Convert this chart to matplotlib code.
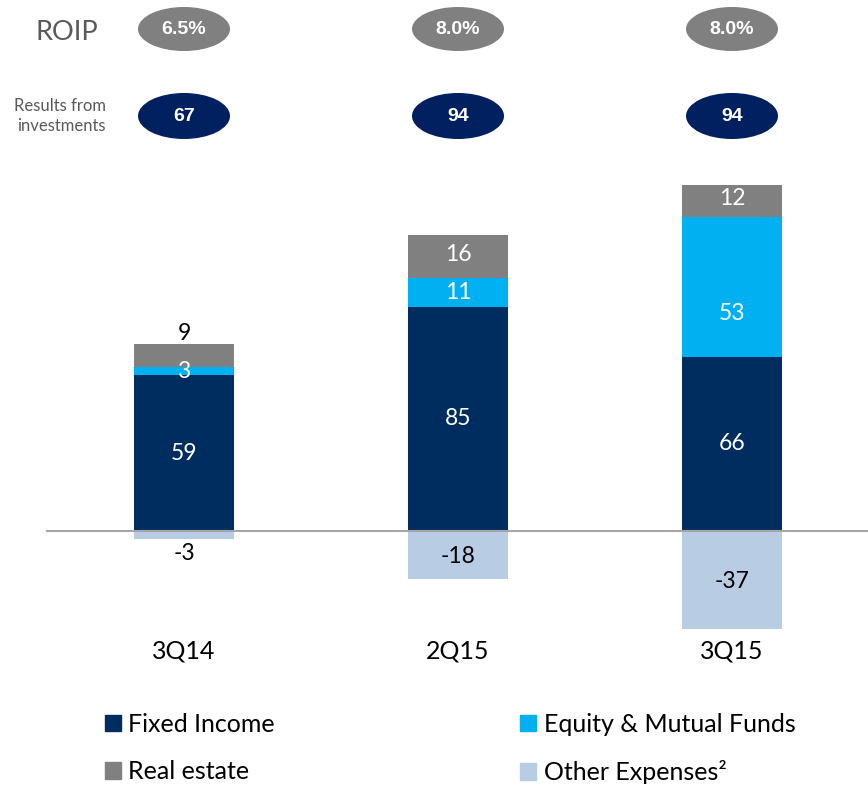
import matplotlib.pyplot as plt
from matplotlib.patches import Ellipse, Patch
import numpy as np

plt.rcParams['font.family'] = ['Lato', 'DejaVu Sans']

quarters = ['3Q14', '2Q15', '3Q15']
fixed_income = [59, 85, 66]
equity_funds = [3, 11, 53]
real_estate = [9, 16, 12]
other_expenses = [-3, -18, -37]
roip = ['6.5%', '8.0%', '8.0%']
results = ['67', '94', '94']

C_FIXED = '#002D5F'
C_EQUITY = '#00B0F0'
C_REAL = '#808080'
C_OTHER = '#B8CCE4'
C_NAVY = '#002060'

# one axes over the whole figure; x in bar slots, y in values
fig = plt.figure(figsize=(8.68, 7.87), dpi=100)
ax = fig.add_axes([0, 0, 1, 1])
px_x = 274.0   # pixels per slot
px_y = 2.64    # pixels per unit
ax.set_xlim(-184 / px_x, (868 - 184) / px_x)
ax.set_ylim(-256 / px_y, 531 / px_y)
ax.axis('off')

x = np.arange(len(quarters))
w = 100 / px_x
fixed_income = np.array(fixed_income)
equity_funds = np.array(equity_funds)
real_estate = np.array(real_estate)

ax.bar(x, fixed_income, w, color=C_FIXED, label='Fixed Income')
ax.bar(x, equity_funds, w, bottom=fixed_income, color=C_EQUITY, label='Equity & Mutual Funds')
ax.bar(x, real_estate, w, bottom=fixed_income + equity_funds, color=C_REAL, label='Real estate')
ax.bar(x, other_expenses, w, color=C_OTHER, label='Other Expenses²')
ax.axhline(0, xmin=47 / 868, xmax=1, color='#A6A6A6', lw=1.5)

fs = 16.5
for i in range(len(quarters)):
    f, e, r, o = fixed_income[i], equity_funds[i], real_estate[i], other_expenses[i]
    ax.text(x[i], f / 2, str(f), color='white', ha='center', va='center', fontsize=fs)
    # the big equity label sits a little below the middle of its segment
    e_y = f + e / 2 - (10 if e > 40 else 0)
    ax.text(x[i], e_y, str(e), color='white', ha='center', va='center', fontsize=fs)
    if r < 10:
        ax.text(x[i], f + e + r + 3.8, str(r), color='black', ha='center', va='center', fontsize=fs)
    else:
        ax.text(x[i], f + e + r / 2 + 0.8, str(r), color='white', ha='center', va='center', fontsize=fs)
    if o > -10:
        ax.text(x[i], o - 5.5, str(o), color='black', ha='center', va='center', fontsize=fs)
    else:
        ax.text(x[i], o / 2 - 0.5, str(o), color='black', ha='center', va='center', fontsize=fs)
    ax.text(x[i], -45.5, quarters[i], color='black', ha='center', va='center', fontsize=18)

    # ROIP and results ellipses
    y_roip = (531 - 29) / px_y
    y_res = (531 - 116) / px_y
    ax.add_patch(Ellipse((x[i], y_roip), 92 / px_x, 44 / px_y, color=C_REAL, lw=0))
    ax.text(x[i], y_roip, roip[i], color='white', ha='center', va='center',
            fontsize=14, fontweight='bold', family='Liberation Sans')
    ax.add_patch(Ellipse((x[i], y_res), 92 / px_x, 46 / px_y, color=C_NAVY, lw=0))
    ax.text(x[i], y_res, results[i], color='white', ha='center', va='center',
            fontsize=14, fontweight='bold', family='Liberation Sans')

fig.text(67 / 868, 1 - 32 / 787, 'ROIP', color='#595959', ha='center', va='center', fontsize=19.5)
fig.text(106 / 868, 1 - 116 / 787, 'Results from\ninvestments', color='#595959', ha='right',
         va='center', fontsize=12, linespacing=1.35)

handles = [Patch(color=C_FIXED), Patch(color=C_REAL), Patch(color=C_EQUITY), Patch(color=C_OTHER)]
labels = ['Fixed Income', 'Real estate', 'Equity & Mutual Funds', 'Other Expenses²']
fig.legend(handles, labels, ncol=2, loc='upper left', bbox_to_anchor=(105 / 868, 1 - 713 / 787),
           frameon=False, fontsize=18, handlelength=0.64, handleheight=0.64, handletextpad=0.3,
           columnspacing=9.8, labelspacing=0.97, borderaxespad=0, borderpad=0)

fig.savefig('out.png', dpi=100)
